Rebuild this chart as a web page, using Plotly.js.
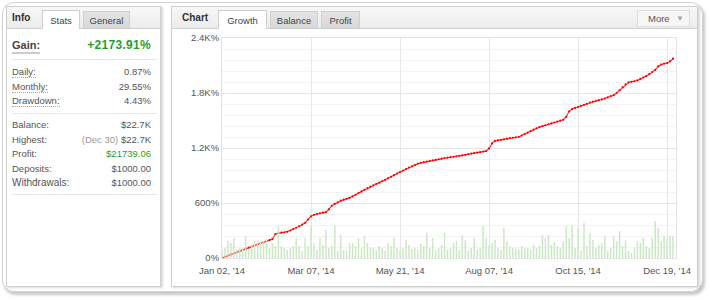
<!DOCTYPE html>
<html>
<head>
<meta charset="utf-8">
<script src="https://cdn.plot.ly/plotly-3.0.1.min.js"></script>
<style>
  html, body { margin:0; padding:0; background:#fff; width:709px; height:300px; overflow:hidden;
    font-family:"Liberation Sans", Arial, sans-serif; }
  #outer { position:absolute; left:2px; top:2px; width:699px; height:288px; border:1px solid #d2d2d2;
    border-radius:12px; box-shadow:2px 3px 3px rgba(0,0,0,0.22); background:#fff; }
  .panel { position:absolute; top:6px; height:279px; border:1px solid #cfcfcf; background:#fff;
    box-shadow:2px 1px 2px rgba(0,0,0,0.15); }
  #left { left:6px; width:153px; }
  #right { left:171px; width:525px; }
  .hdr { position:absolute; left:0; top:0; right:0; height:21px; background:linear-gradient(#f7f7f7,#ececec);
    border-bottom:1px solid #cfcfcf; }
  .hdr .ttl { position:absolute; top:5px; font-weight:bold; font-size:10px; color:#333; }
  .tab { position:absolute; top:4px; height:16px; font-size:9.5px; color:#444; text-align:center;
    line-height:17px; border:1px solid #cfcfcf; border-bottom:none; background:linear-gradient(#e4e4e4,#d8d8d8); }
  .tab.active { background:#fff; height:18px; top:3px; line-height:19px; }
  .row { position:absolute; left:5px; right:9px; font-size:9.5px; color:#555; height:12px; }
  .row .lb { position:absolute; left:0; top:0; border-bottom:1px dotted #aaa; line-height:11px; }
  .row .vl { position:absolute; right:0; top:0; line-height:11px; }
  .sep { position:absolute; left:5px; right:3px; height:0; border-top:1px solid #e8e8e8; }
  #more { position:absolute; left:465px; top:3px; width:51px; height:15px; border:1px solid #dedede;
    background:#f6f6f6; font-size:9.5px; color:#555; line-height:15px; }
  #chart { position:absolute; left:172px; top:28px; width:525px; height:257px; }
</style>
</head>
<body>
<div id="outer"></div>
<div class="panel" id="left">
  <div class="hdr">
    <div class="ttl" style="left:5px;">Info</div>
    <div class="tab active" style="left:35px;width:36px;">Stats</div>
    <div class="tab" style="left:76px;width:45px;">General</div>
  </div>
  <div class="row" style="top:32px;height:14px;">
    <span class="lb" style="font-weight:bold;font-size:11px;color:#444;line-height:13px;border-bottom:2px solid #ccc;">Gain:</span>
    <span class="vl" style="font-weight:bold;font-size:12px;color:#1ea12e;line-height:13px;letter-spacing:0.3px;">+2173.91%</span>
  </div>
  <div class="sep" style="top:52px;"></div>
  <div class="row" style="top:59px;"><span class="lb">Daily:</span><span class="vl">0.87%</span></div>
  <div class="row" style="top:74px;"><span class="lb">Monthly:</span><span class="vl">29.55%</span></div>
  <div class="row" style="top:88px;"><span class="lb">Drawdown:</span><span class="vl">4.43%</span></div>
  <div class="sep" style="top:106px;"></div>
  <div class="row" style="top:112px;"><span class="lb" style="border:none;">Balance:</span><span class="vl">$22.7K</span></div>
  <div class="row" style="top:127px;"><span class="lb" style="border:none;">Highest:</span><span class="vl"><span style="color:#999;">(Dec 30)</span> $22.7K</span></div>
  <div class="row" style="top:141px;"><span class="lb" style="border:none;">Profit:</span><span class="vl" style="color:#1ea12e;">$21739.06</span></div>
  <div class="row" style="top:156px;"><span class="lb" style="border:none;">Deposits:</span><span class="vl">$1000.00</span></div>
  <div class="row" style="top:170px;"><span class="lb" style="border:none;font-size:10px;">Withdrawals:</span><span class="vl">$1000.00</span></div>
  <div class="sep" style="top:187px;"></div>
</div>
<div class="panel" id="right">
  <div class="hdr">
    <div class="ttl" style="left:10px;">Chart</div>
    <div class="tab active" style="left:46px;width:47px;">Growth</div>
    <div class="tab" style="left:98px;width:46px;">Balance</div>
    <div class="tab" style="left:149px;width:37px;">Profit</div>
    <div id="more"><span style="position:absolute;left:10px;">More</span><span style="position:absolute;right:5px;color:#aaa;font-size:8px;">&#9660;</span></div>
  </div>
</div>
<div id="chart"></div>
<script>
// Growth (%) per trading-day index
const growth = [0,13,26,39,52,65,77,90,102,114,126,138,149,160,171,183,195,206,262,272,
276,280,286,300,315,330,346,364,384,420,455,472,480,487,494,500,530,570,590,608,
625,636,645,655,672,690,708,726,744,762,778,793,808,822,837,852,868,886,904,921,
938,954,970,987,1000,1014,1028,1038,1045,1052,1058,1064,1071,1077,1084,1091,1095,1100,1104,1109,
1113,1119,1126,1132,1139,1145,1151,1156,1161,1166,1195,1250,1278,1284,1289,1295,1302,1309,1312,1316,
1320,1336,1352,1368,1384,1400,1414,1428,1438,1448,1458,1468,1478,1488,1498,1508,1540,1600,1625,1638,
1647,1659,1670,1682,1694,1705,1713,1722,1730,1739,1752,1765,1776,1800,1830,1862,1895,1915,1922,1928,
1937,1953,1969,1984,2005,2028,2053,2090,2110,2120,2127,2145,2174];
// Daily activity (lots) per trading-day index
const activity = [0.7,1.0,1.7,1.5,2.0,0.9,1.0,1.0,2.2,0.8,1.3,1.7,1.8,1.6,1.7,1.9,1.0,1.5,1.2,3.2,
1.2,1.0,0.8,1.0,1.2,2.0,1.2,0.7,2.0,1.2,3.2,1.5,0.8,2.0,1.3,2.8,1.0,1.2,3.3,0.7,
2.3,0.8,0.7,1.5,1.5,1.2,2.0,1.0,2.2,1.5,1.0,1.0,0.8,1.2,1.0,0.7,1.5,1.2,2.0,1.0,
0.8,1.0,1.8,1.3,0.9,1.0,0.8,1.4,1.2,2.5,1.0,2.0,0.8,1.0,1.3,2.5,0.8,1.0,1.5,1.7,
0.8,2.3,1.8,0.7,1.0,2.0,0.8,1.0,3.2,2.0,1.3,1.5,1.8,1.0,0.8,3.0,1.7,1.2,1.0,0.9,
0.8,1.2,1.0,1.0,0.8,1.3,1.0,1.2,2.3,2.0,2.3,1.3,1.6,1.2,1.0,1.7,3.2,2.0,3.3,1.0,
3.0,0.7,3.5,1.2,2.5,1.8,1.0,1.3,1.5,2.2,0.7,1.0,2.2,1.7,2.7,1.2,1.8,0.7,0.5,1.0,
1.7,1.5,2.0,1.2,1.0,2.0,3.7,3.0,1.7,2.2,2.0,2.2,2.2];
const xTickIdx = [0,30,60,90,120,150];
const xTickText = ["Jan 02, '14","Mar 07, '14","May 21, '14","Aug 07, '14","Oct 15, '14","Dec 19, '14"];
const yTickVals = [0,600,1200,1800,2400];
const yTickText = ["0%","600%","1.2K%","1.8K%","2.4K%"];

const idx = growth.map((_, i) => i);

const traces = [
  { type:'bar', x:idx, y:activity, yaxis:'y2', marker:{color:'#cbe8c5', line:{width:0}},
    hoverinfo:'skip', showlegend:false },
  { type:'scatter', mode:'lines+markers', x:idx, y:growth,
    line:{color:'#ff2a2a', width:1.1}, marker:{color:'#ff0000', size:2.2},
    showlegend:false }
];
const layout = {
  width:525, height:257,
  margin:{l:50, r:21, t:10, b:27},
  paper_bgcolor:'rgba(0,0,0,0)', plot_bgcolor:'rgba(0,0,0,0)',
  font:{family:'"Liberation Sans", Arial, sans-serif', size:9.5, color:'#555'},
  bargap:0.5,
  xaxis:{range:[0,153], tickmode:'array', tickvals:xTickIdx, ticktext:xTickText,
    showgrid:true, gridcolor:'#e6e6e6', gridwidth:1, zeroline:false, ticklabelstandoff:4,
    showline:true, linecolor:'#e3e3e3', mirror:true, ticks:'', fixedrange:true},
  yaxis:{range:[0,2400], tickmode:'array', tickvals:yTickVals, ticktext:yTickText,
    showgrid:true, gridcolor:'#e6e6e6', zeroline:false, showline:true, linecolor:'#e3e3e3', mirror:true,
    ticks:'', minor:{tickmode:'linear', tick0:0, dtick:120, showgrid:true, gridcolor:'#f3f3f3'}},
  yaxis2:{overlaying:'y', range:[0,22], visible:false, showgrid:false}
};
Plotly.newPlot('chart', traces, layout, {displayModeBar:false, staticPlot:true});
</script>
</body>
</html>
